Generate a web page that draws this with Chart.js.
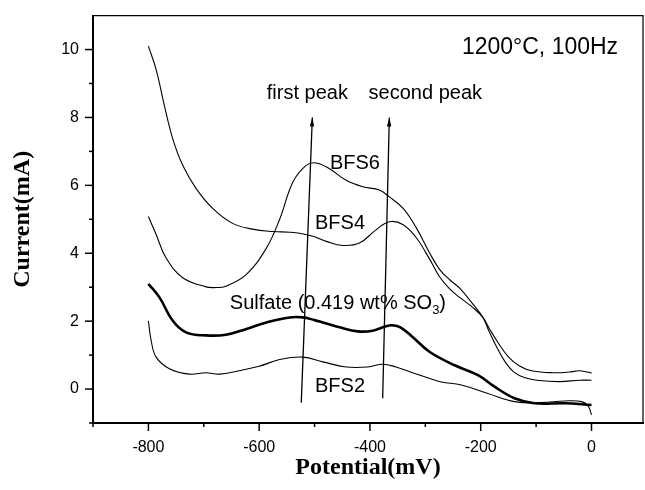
<!DOCTYPE html>
<html>
<head>
<meta charset="utf-8">
<script src="https://cdn.jsdelivr.net/npm/chart.js@4"></script>
<style>
  body { margin: 0; background: #fff; }
  #wrap { width: 645px; height: 490px; }
</style>
</head>
<body>
<div id="wrap"><canvas id="chart" width="645" height="490"></canvas></div>
<script>
// values (potential in mV, current in mA)
const bfs4X = [-800, -786, -771, -756, -738, -714, -684, -648, -612, -575, -545, -527, -503, -479, -449, -419, -389, -365, -340, -316, -292, -274, -256, -238, -214, -196, -185, -170, -150, -130, -106, -69, -40, -21, 0];
const bfs4Y = [10.1, 9.41, 8.34, 7.37, 6.59, 5.91, 5.32, 4.88, 4.71, 4.64, 4.62, 4.59, 4.50, 4.35, 4.23, 4.30, 4.69, 4.93, 4.84, 4.45, 3.82, 3.30, 2.95, 2.70, 2.40, 2.11, 1.80, 1.40, 0.95, 0.68, 0.53, 0.48, 0.50, 0.54, 0.47];

const bfs6X = [-800, -786, -768, -738, -696, -678, -660, -623, -587, -563, -539, -515, -497, -473, -443, -413, -383, -365, -340, -316, -292, -274, -256, -238, -214, -196, -185, -170, -155, -140, -120, -94, -57, -21, 0];
const bfs6Y = [5.08, 4.55, 3.86, 3.28, 3.01, 2.99, 3.03, 3.38, 4.15, 5.00, 6.10, 6.59, 6.66, 6.49, 6.15, 5.96, 5.86, 5.66, 5.32, 4.74, 4.00, 3.52, 3.22, 2.97, 2.50, 2.11, 1.70, 1.20, 0.78, 0.50, 0.33, 0.25, 0.22, 0.26, 0.26];

const sulfateX = [-800, -780, -756, -732, -696, -660, -623, -587, -545, -521, -500, -485, -455, -422, -395, -371, -360, -345, -322, -292, -247, -205, -175, -139, -103, -48, 0];
const sulfateY = [3.10, 2.70, 2.01, 1.67, 1.58, 1.60, 1.77, 1.96, 2.11, 2.11, 2.03, 1.96, 1.82, 1.70, 1.72, 1.85, 1.88, 1.82, 1.52, 1.09, 0.70, 0.41, 0.07, -0.27, -0.42, -0.42, -0.47];

const bfs2X = [-800, -795, -786, -762, -726, -696, -672, -636, -600, -563, -521, -485, -443, -404, -377, -353, -319, -292, -271, -235, -187, -139, -91, -48, -18, -6, 0];
const bfs2Y = [2.01, 1.43, 0.94, 0.60, 0.44, 0.48, 0.44, 0.54, 0.67, 0.87, 0.94, 0.80, 0.65, 0.65, 0.73, 0.65, 0.46, 0.31, 0.21, 0.12, -0.13, -0.37, -0.40, -0.35, -0.37, -0.50, -0.76];

// peak arrows (tail -> head)
const firstArrowX = [-524, -504];
const firstArrowY = [-0.4, 8.0];
const secondArrowX = [-377, -365];
const secondArrowY = [-0.27, 8.0];

const xTicks = [-900, -800, -700, -600, -500, -400, -300, -200, -100, 0];
const yTicks = [-1, 0, 1, 2, 3, 4, 5, 6, 7, 8, 9, 10];

// text labels placed in data units
const labels = [
  { text: "first peak", x: -513, y: 8.54, align: "center" },
  { text: "second peak", x: -300, y: 8.54, align: "center" },
  { text: "BFS6", x: -427, y: 6.49, align: "center" },
  { text: "BFS4", x: -454, y: 4.70, align: "center" },
  { text: "BFS2", x: -454, y: -0.09, align: "center" },
  { text: "1200°C, 100Hz", x: -234, y: 9.86, align: "left", size: 23 }
];

function pts(xs, ys) {
  return xs.map((v, i) => ({ x: v, y: ys[i] }));
}

function curve(xs, ys, w) {
  return {
    data: pts(xs, ys),
    borderColor: "#000",
    borderWidth: w,
    pointRadius: 0,
    tension: 0.4,
    fill: false
  };
}

function arrow(xs, ys) {
  return {
    data: pts(xs, ys),
    borderColor: "#000",
    borderWidth: 1.3,
    pointRadius: 0,
    tension: 0,
    fill: false
  };
}

const decorations = {
  id: "decorations",
  afterDraw(chart) {
    const { ctx, chartArea: a, scales: { x, y } } = chart;
    ctx.save();
    ctx.strokeStyle = "#000";
    ctx.fillStyle = "#000";

    // top and right frame
    ctx.lineWidth = 1.2;
    ctx.beginPath();
    ctx.moveTo(a.left, a.top);
    ctx.lineTo(a.right, a.top);
    ctx.lineTo(a.right, a.bottom);
    ctx.stroke();

    // tick marks, long for labelled ones
    ctx.lineWidth = 1.5;
    xTicks.forEach(v => {
      const px = x.getPixelForValue(v);
      const len = v % 200 === 0 ? 8 : 4;
      ctx.beginPath();
      ctx.moveTo(px, a.bottom);
      ctx.lineTo(px, a.bottom + len);
      ctx.stroke();
    });
    yTicks.forEach(v => {
      const py = y.getPixelForValue(v);
      const len = v % 2 === 0 ? 8 : 4;
      ctx.beginPath();
      ctx.moveTo(a.left, py);
      ctx.lineTo(a.left - len, py);
      ctx.stroke();
    });

    // arrowheads
    [4, 5].forEach(i => {
      const d = chart.getDatasetMeta(i).data;
      const p0 = d[0], p1 = d[d.length - 1];
      const ang = Math.atan2(p1.y - p0.y, p1.x - p0.x);
      ctx.save();
      ctx.translate(p1.x, p1.y);
      ctx.rotate(ang);
      ctx.beginPath();
      ctx.moveTo(0, 0);
      ctx.lineTo(-9, -2.2);
      ctx.lineTo(-9, 2.2);
      ctx.closePath();
      ctx.fill();
      ctx.restore();
    });

    // labels
    ctx.textBaseline = "alphabetic";
    labels.forEach(l => {
      ctx.font = (l.size || 20) + "px 'Liberation Sans', Arial, sans-serif";
      ctx.textAlign = l.align;
      ctx.fillText(l.text, x.getPixelForValue(l.x), y.getPixelForValue(l.y));
    });

    // Sulfate label with subscript 3
    ctx.textAlign = "left";
    let sx = x.getPixelForValue(-653);
    const sy = y.getPixelForValue(2.36);
    ctx.font = "20px 'Liberation Sans', Arial, sans-serif";
    const part1 = "Sulfate (0.419 wt% SO";
    ctx.fillText(part1, sx, sy);
    sx += ctx.measureText(part1).width;
    ctx.font = "13px 'Liberation Sans', Arial, sans-serif";
    ctx.fillText("3", sx, sy + 5);
    sx += ctx.measureText("3").width;
    ctx.font = "20px 'Liberation Sans', Arial, sans-serif";
    ctx.fillText(")", sx, sy);

    ctx.restore();
  }
};

new Chart(document.getElementById("chart"), {
  type: "line",
  data: {
    datasets: [
      curve(bfs4X, bfs4Y, 1.1),
      curve(bfs6X, bfs6Y, 1.1),
      curve(sulfateX, sulfateY, 2.6),
      curve(bfs2X, bfs2Y, 1.1),
      arrow(firstArrowX, firstArrowY),
      arrow(secondArrowX, secondArrowY)
    ]
  },
  options: {
    responsive: false,
    animation: false,
    layout: { padding: { top: 13, right: 2, left: 0, bottom: 0 } },
    plugins: {
      legend: { display: false },
      tooltip: { enabled: false }
    },
    scales: {
      x: {
        type: "linear",
        min: -900,
        max: 93,
        afterFit: s => { s.height = 67; },
        afterBuildTicks: s => { s.ticks = xTicks.map(v => ({ value: v })); },
        ticks: {
          autoSkip: false,
          maxRotation: 0,
          padding: 7,
          color: "#000",
          font: { family: "'Liberation Sans', Arial, sans-serif", size: 16 },
          callback: v => (v % 200 === 0 ? String(v) : "")
        },
        grid: { display: true, drawOnChartArea: false, drawTicks: true, tickLength: 8, tickColor: "transparent" },
        border: { display: true, color: "#000", width: 2 },
        title: {
          display: true,
          text: "Potential(mV)",
          color: "#000",
          padding: { top: 0, bottom: 8 },
          font: { family: "'Liberation Serif', 'Times New Roman', serif", size: 24, weight: "bold" }
        }
      },
      y: {
        min: -1,
        max: 11,
        afterFit: s => { s.width = 93; },
        afterBuildTicks: s => { s.ticks = yTicks.map(v => ({ value: v })); },
        ticks: {
          autoSkip: false,
          padding: 6,
          color: "#000",
          font: { family: "'Liberation Sans', Arial, sans-serif", size: 16 },
          callback: v => (v % 2 === 0 ? String(v) : "")
        },
        grid: { display: true, drawOnChartArea: false, drawTicks: true, tickLength: 8, tickColor: "transparent" },
        border: { display: true, color: "#000", width: 2 },
        title: {
          display: true,
          text: "Current(mA)",
          color: "#000",
          padding: { top: 8, bottom: 0 },
          font: { family: "'Liberation Serif', 'Times New Roman', serif", size: 24, weight: "bold" }
        }
      }
    }
  },
  plugins: [decorations]
});
</script>
</body>
</html>
